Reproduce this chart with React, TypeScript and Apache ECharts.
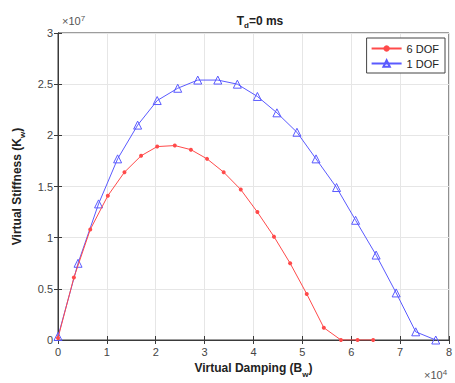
import React, { useEffect, useRef } from "react";
import * as echarts from "echarts";

// Virtual damping B_w in units of 1e4, virtual stiffness K_w in units of 1e7
const dof6X = [0, 0.325, 0.66, 1.02, 1.36, 1.7, 2.03, 2.39, 2.72, 3.05, 3.39, 3.74, 4.08, 4.42, 4.75, 5.09, 5.44, 5.79, 6.13, 6.45];
const dof6Y = [0.02, 0.61, 1.08, 1.41, 1.64, 1.8, 1.89, 1.9, 1.86, 1.77, 1.64, 1.47, 1.25, 1.01, 0.75, 0.45, 0.12, 0, 0, 0];
const dof1X = [0, 0.41, 0.83, 1.22, 1.63, 2.03, 2.45, 2.86, 3.27, 3.67, 4.08, 4.48, 4.89, 5.28, 5.7, 6.09, 6.51, 6.92, 7.32, 7.73];
const dof1Y = [0.035, 0.75, 1.33, 1.77, 2.1, 2.34, 2.46, 2.54, 2.54, 2.5, 2.38, 2.22, 2.03, 1.77, 1.49, 1.17, 0.83, 0.46, 0.08, 0];
const seriesNames = ["6 DOF", "1 DOF"];
const xTicks = ["0", "1", "2", "3", "4", "5", "6", "7", "8"];
const yTicks = ["0", "0.5", "1", "1.5", "2", "2.5", "3"];

const FONT = "Liberation Sans, Arial, sans-serif";
const RED = "#ff4a4a";
const BLUE = "#5a5aff";
const AX = "#3a3a3a";

export default function App() {
  const ref = useRef<HTMLDivElement>(null);
  useEffect(() => {
    if (!ref.current) return;
    const chart = echarts.init(ref.current, undefined, { renderer: "svg" });
    const zip = (xs: number[], ys: number[]) => xs.map((x, i) => [x, ys[i]]);
    const nameRich = {
      b: { fontFamily: FONT, fontWeight: "bold", fontSize: 12, color: "#222" },
      s: { fontFamily: FONT, fontWeight: "bold", fontSize: 8, color: "#222", verticalAlign: "bottom", padding: [0, 0, -4, 0] },
    };
    chart.setOption({
      animation: false,
      backgroundColor: "#fff",
      textStyle: { fontFamily: FONT },
      title: {
        text: "{a|T}{s|d}{a|=0 ms}",
        left: 255,
        top: 8,
        textAlign: "center",
        textStyle: {
          rich: {
            a: { fontFamily: FONT, fontWeight: "bold", fontSize: 12, color: "#222" },
            s: { fontFamily: FONT, fontWeight: "bold", fontSize: 8, color: "#222", padding: [8, 0, 0, 0] },
          },
        },
      },
      legend: {
        right: 10,
        top: 38,
        orient: "vertical",
        backgroundColor: "#fff",
        borderColor: "#444",
        borderWidth: 1,
        borderRadius: 0,
        padding: [5, 6, 4, 4],
        itemGap: 4,
        itemWidth: 30,
        itemHeight: 8,
        textStyle: { fontFamily: FONT, fontSize: 11, color: "#222" },
        data: seriesNames,
      },
      grid: { left: 58, right: 3, top: 33, bottom: 41, show: true, borderColor: AX, borderWidth: 1 },
      xAxis: [
        {
          type: "value",
          min: 0,
          max: 8,
          interval: 1,
          name: "{b|Virtual Damping (B}{s|w}{b|)}",
          nameLocation: "middle",
          nameGap: 22,
          nameTextStyle: { rich: nameRich },
          axisLine: { lineStyle: { color: AX } },
          axisTick: { inside: true, length: 4, lineStyle: { color: AX } },
          axisLabel: { fontFamily: FONT, fontSize: 11, color: "#444", margin: 6, formatter: (v: number) => xTicks[Math.round(v)] },
          splitLine: { lineStyle: { color: "#e6e6e6" } },
        },
        {
          type: "value",
          position: "top",
          min: 0,
          max: 8,
          interval: 1,
          axisLine: { show: true, lineStyle: { color: AX } },
          axisTick: { show: true, inside: true, length: 4, lineStyle: { color: AX } },
          axisLabel: { show: false },
          splitLine: { show: false },
        },
      ],
      yAxis: [
        {
          type: "value",
          min: 0,
          max: 3,
          interval: 0.5,
          name: "{b|Virtual Stiffness (K}{s|w}{b|)}",
          nameLocation: "middle",
          nameGap: 32,
          nameTextStyle: { rich: nameRich },
          axisLine: { show: true, lineStyle: { color: AX } },
          axisTick: { show: true, inside: true, length: 4, lineStyle: { color: AX } },
          axisLabel: { fontFamily: FONT, fontSize: 11, color: "#444", margin: 5, formatter: (v: number) => yTicks[Math.round(v * 2)] },
          splitLine: { lineStyle: { color: "#e6e6e6" } },
        },
        {
          type: "value",
          position: "right",
          min: 0,
          max: 3,
          interval: 0.5,
          axisLine: { show: true, lineStyle: { color: AX } },
          axisTick: { show: true, inside: true, length: 4, lineStyle: { color: AX } },
          axisLabel: { show: false },
          splitLine: { show: false },
        },
      ],
      series: [
        {
          name: seriesNames[0],
          type: "line",
          data: zip(dof6X, dof6Y),
          symbol: "circle",
          symbolSize: 4,
          color: RED,
          lineStyle: { color: RED, width: 1 },
          itemStyle: { color: RED },
          z: 3,
        },
        {
          name: seriesNames[1],
          type: "line",
          data: zip(dof1X, dof1Y),
          symbol: "triangle",
          symbolSize: 8,
          color: BLUE,
          lineStyle: { color: BLUE, width: 1 },
          itemStyle: { color: "rgba(255,255,255,0)", borderColor: BLUE, borderWidth: 1 },
          z: 2,
        },
      ],
      graphic: [
        {
          type: "text",
          left: 62,
          top: 14,
          style: {
            text: "×10{p|7}",
            font: "11px " + FONT,
            fill: "#555",
            rich: { p: { fontSize: 8, fill: "#555", verticalAlign: "top", padding: [0, 0, 6, 0] } },
          },
        },
        {
          type: "text",
          left: 424,
          top: 368,
          style: {
            text: "×10{p|4}",
            font: "11px " + FONT,
            fill: "#555",
            rich: { p: { fontSize: 8, fill: "#555", verticalAlign: "top", padding: [0, 0, 6, 0] } },
          },
        },
      ],
    });
    return () => chart.dispose();
  }, []);
  return <div ref={ref} style={{ position: "absolute", left: 0, top: 0, width: 455, height: 383 }} />;
}
